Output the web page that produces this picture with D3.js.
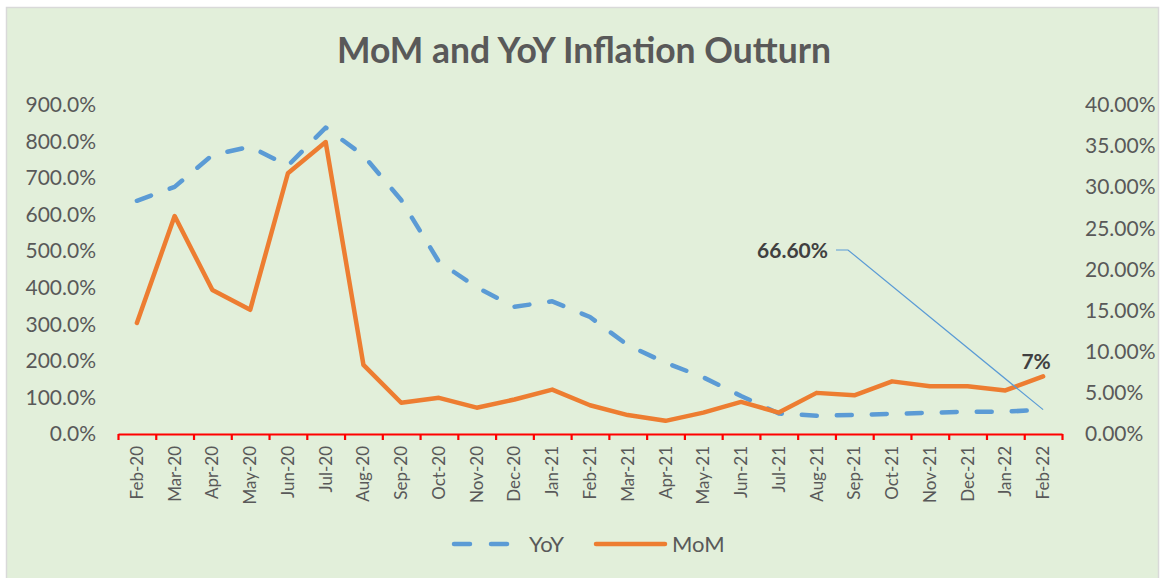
<!DOCTYPE html>
<html>
<head>
<meta charset="utf-8">
<script src="https://cdn.jsdelivr.net/npm/d3@7"></script>
<style>
  body { margin: 0; background: #ffffff; }
  text { font-family: Lato, "Open Sans", sans-serif; }
</style>
</head>
<body>
<div id="chart"></div>
<script>
// data (percent units)
var months = ["Feb-20","Mar-20","Apr-20","May-20","Jun-20","Jul-20","Aug-20","Sep-20","Oct-20","Nov-20","Dec-20","Jan-21",
              "Feb-21","Mar-21","Apr-21","May-21","Jun-21","Jul-21","Aug-21","Sep-21","Oct-21","Nov-21","Dec-21","Jan-22","Feb-22"];
var yoy = [638, 676, 763, 786, 734, 838, 762, 640, 471, 401, 348, 363,
           320, 243, 195, 155, 104, 56, 50, 52, 55, 58, 61, 61, 66.6];
var mom = [13.5, 26.5, 17.5, 15.1, 31.7, 35.5, 8.4, 3.8, 4.4, 3.2, 4.2, 5.4,
           3.5, 2.3, 1.6, 2.6, 3.9, 2.6, 5.0, 4.7, 6.4, 5.8, 5.8, 5.3, 7.0];
var leftTicks = [0, 100, 200, 300, 400, 500, 600, 700, 800, 900];
var rightTicks = [0, 5, 10, 15, 20, 25, 30, 35, 40];

var svgWidth = 1161;
var svgHeight = 578;

var plot = { left: 118, right: 1062, top: 105, bottom: 434 };

var svg = d3.select("#chart")
  .append("svg")
  .attr("width", svgWidth)
  .attr("height", svgHeight);

// chart area background + border
svg.append("rect")
  .attr("x", 6.5).attr("y", 7.5)
  .attr("width", 1152).attr("height", 580)
  .attr("fill", "#E2EFDA")
  .attr("stroke", "#D9D9D9")
  .attr("stroke-width", 1.5);

// title
svg.append("text")
  .attr("x", 584)
  .attr("y", 63)
  .attr("text-anchor", "middle")
  .attr("font-size", "35.5px")
  .attr("font-weight", "bold")
  .attr("fill", "#595959")
  .text("MoM and YoY Inflation Outturn");

// scales
var xScale = d3.scaleBand()
  .domain(months)
  .range([plot.left, plot.right])
  .padding(0);
var xc = d => xScale(d) + xScale.bandwidth() / 2;

var tickScale = d3.scaleLinear()
  .domain([0, months.length])
  .range([plot.left, plot.right]);

var yLeft = d3.scaleLinear().domain([0, 900]).range([plot.bottom, plot.top]);
var yRight = d3.scaleLinear().domain([0, 40]).range([plot.bottom, plot.top]);

// left axis
var leftAxis = d3.axisLeft(yLeft)
  .tickValues(leftTicks)
  .tickSize(0)
  .tickPadding(0)
  .tickFormat(d => d3.format(".1f")(d) + "%");
var gL = svg.append("g")
  .attr("transform", "translate(96,0)")
  .call(leftAxis);
gL.select(".domain").remove();
gL.selectAll("text")
  .attr("font-size", "21px")
  .attr("fill", "#595959")
  .attr("font-family", "Lato, sans-serif");

// right axis
var rightAxis = d3.axisRight(yRight)
  .tickValues(rightTicks)
  .tickSize(0)
  .tickPadding(0)
  .tickFormat(d => d3.format(".2f")(d) + "%");
var gR = svg.append("g")
  .attr("transform", "translate(1085,0)")
  .call(rightAxis);
gR.select(".domain").remove();
gR.selectAll("text")
  .attr("font-size", "21px")
  .attr("fill", "#595959")
  .attr("font-family", "Lato, sans-serif");

// x axis: red line with ticks between categories
var tickAxis = d3.axisBottom(tickScale)
  .tickValues(d3.range(months.length + 1))
  .tickSize(6)
  .tickSizeOuter(0)
  .tickFormat("");
var gT = svg.append("g")
  .attr("transform", `translate(0, ${plot.bottom})`)
  .call(tickAxis);
gT.select(".domain").attr("stroke", "#FF0000").attr("stroke-width", 2.2);
gT.selectAll(".tick line").attr("stroke", "#FF0000").attr("stroke-width", 2.2);

// category labels
svg.append("g").selectAll("text")
  .data(months)
  .enter()
  .append("text")
  .attr("transform", d => `translate(${xc(d) + 6}, 446) rotate(-90)`)
  .attr("text-anchor", "end")
  .attr("font-size", "17px")
  .attr("fill", "#595959")
  .text(d => d);

// lines
var yoyLine = d3.line()
  .x((d, i) => xc(months[i]))
  .y(d => yLeft(d));
var momLine = d3.line()
  .x((d, i) => xc(months[i]))
  .y(d => yRight(d));

svg.append("path")
  .datum(yoy)
  .attr("d", yoyLine)
  .attr("fill", "none")
  .attr("stroke", "#5B9BD5")
  .attr("stroke-width", 4.5)
  .attr("stroke-dasharray", "15,20")
  .attr("stroke-linecap", "round")
  .attr("stroke-linejoin", "round");

svg.append("path")
  .datum(mom)
  .attr("d", momLine)
  .attr("fill", "none")
  .attr("stroke", "#ED7D31")
  .attr("stroke-width", 4.5)
  .attr("stroke-linecap", "round")
  .attr("stroke-linejoin", "round");

// data labels for last point
var last = months.length - 1;
var lastX = xc(months[last]);

svg.append("path")
  .attr("d", `M836,250 L848,250 L${lastX},${yLeft(yoy[last])}`)
  .attr("fill", "none")
  .attr("stroke", "#5B9BD5")
  .attr("stroke-width", 1.2);

svg.append("text")
  .attr("x", 828)
  .attr("y", 258)
  .attr("text-anchor", "end")
  .attr("font-size", "21px")
  .attr("font-weight", "bold")
  .attr("fill", "#404040")
  .text(d3.format(".2f")(yoy[last]) + "%");

svg.append("text")
  .attr("x", lastX - 7)
  .attr("y", 369)
  .attr("text-anchor", "middle")
  .attr("font-size", "21px")
  .attr("font-weight", "bold")
  .attr("fill", "#404040")
  .text(d3.format(".0f")(mom[last]) + "%");

// legend
var legend = svg.append("g");
legend.append("line")
  .attr("x1", 454).attr("x2", 508)
  .attr("y1", 544).attr("y2", 544)
  .attr("stroke", "#5B9BD5")
  .attr("stroke-width", 4.5)
  .attr("stroke-dasharray", "16,21")
  .attr("stroke-linecap", "round");
legend.append("text")
  .attr("x", 529).attr("y", 552)
  .attr("font-size", "22px")
  .attr("fill", "#595959")
  .text("YoY");
legend.append("line")
  .attr("x1", 596).attr("x2", 665)
  .attr("y1", 544).attr("y2", 544)
  .attr("stroke", "#ED7D31")
  .attr("stroke-width", 4.5)
  .attr("stroke-linecap", "round");
legend.append("text")
  .attr("x", 672).attr("y", 552)
  .attr("font-size", "22px")
  .attr("fill", "#595959")
  .text("MoM");
</script>
</body>
</html>
